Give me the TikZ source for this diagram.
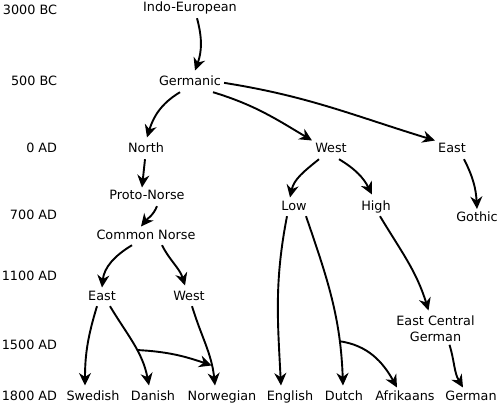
\documentclass[tikz,border=0pt]{standalone}
\usepackage{fontspec}
\setmainfont{DejaVu Sans}
\usetikzlibrary{arrows.meta}
\begin{document}
\begin{tikzpicture}[x=1pt,y=1pt,
  every node/.style={font=\fontsize{12.8}{16}\selectfont},
  lang/.style={inner sep=3pt, text height=9.3pt, text depth=3pt, anchor=base},
  year/.style={inner sep=3pt, anchor=base east},
  arr/.style={line width=1.9pt, -{Stealth[length=12.5pt,width=12pt,inset=4pt]}}]
\useasboundingbox (0,0) rectangle (500,-406);
% years
\node[year] (y1) at (60.3,-14.5) {3000 BC};
\node[year] (y2) at (60.3,-86) {500 BC};
\node[year] (y3) at (60.3,-153) {0 AD};
\node[year] (y4) at (60.3,-219) {700 AD};
\node[year] (y5) at (60.3,-280) {1100 AD};
\node[year] (y6) at (60.3,-349) {1500 AD};
\node[year] (y7) at (60.3,-400) {1800 AD};
% languages
\node[lang] (ie) at (190,-12) {Indo-European};
\node[lang] (germ) at (190,-86) {Germanic};
\node[lang] (north) at (146,-153) {North};
\node[lang] (west) at (331,-153) {West};
\node[lang] (east) at (452,-153) {East};
\node[lang] (proto) at (147,-200) {Proto-Norse};
\node[lang] (low) at (294,-210) {Low};
\node[lang] (high) at (376,-210) {High};
\node[lang] (gothic) at (477,-221.5) {Gothic};
\node[lang] (common) at (146,-239) {Common Norse};
\node[lang] (eastn) at (102,-300) {East};
\node[lang] (westn) at (189,-300) {West};
\node[inner sep=3pt, align=center, anchor=north] (ecg) at (435.5,-312.5) {East Central\\German};
\node[lang] (swedish) at (93,-400) {Swedish};
\node[lang] (danish) at (153,-400) {Danish};
\node[lang] (norw) at (222,-400) {Norwegian};
\node[lang] (english) at (290,-400) {English};
\node[lang] (dutch) at (344,-400) {Dutch};
\node[lang] (afrik) at (405,-400) {Afrikaans};
\node[lang] (german) at (471,-400) {German};
% connectors
\draw[arr] ([xshift=7pt]ie.south) to[out=-75,in=70] ([xshift=5pt,yshift=3pt]germ.north);
\draw[arr] ([xshift=-10pt]germ.south) to[out=211,in=73] ([xshift=1pt,yshift=3pt]north.north);
\draw[arr] ([xshift=23pt]germ.south) to[out=-17,in=149] ([xshift=-19pt]west.north);
\draw[arr] (germ.east) to[out=-9,in=163] (east.north west);
\draw[arr] ([xshift=-1pt]north.south) -- ([xshift=-5pt]proto.north);
\draw[arr] ([xshift=10pt]proto.south) to[out=-112,in=51] ([xshift=-5pt]common.north);
\draw[arr] ([xshift=-12pt]west.south) to[out=219,in=78] ([xshift=-4pt]low.north);
\draw[arr] ([xshift=8pt]west.south) to[out=-31,in=117] ([xshift=-4pt,yshift=3pt]high.north);
\draw[arr] ([xshift=12pt]east.south) to[out=-63,in=93] (gothic.north);
\draw[arr] ([xshift=-14pt]common.south) to[out=211,in=84] (eastn.north);
\draw[arr] ([xshift=16pt]common.south) to[out=-63,in=107] ([xshift=-4pt,yshift=2pt]westn.north);
\draw[arr] ([xshift=-5pt]eastn.south) to[out=-107,in=90] ([xshift=-8pt,yshift=2pt]swedish.north);
\draw[arr] ([xshift=8pt]eastn.south) to[out=-59,in=101] coordinate[pos=0.58] (dm) ([xshift=-4pt,yshift=2pt]danish.north);
\draw[arr] ([xshift=3pt]westn.south) to[out=-73,in=96] coordinate[pos=0.77] (nm) ([xshift=-7pt,yshift=2pt]norw.north);
\draw[arr] (dm) to[out=-3,in=161] (nm);
\draw[arr] ([xshift=-7pt]low.south) to[out=-101,in=93] ([xshift=-9pt,yshift=2pt]english.north);
\draw[arr] ([xshift=12pt]low.south) to[out=-71,in=92] coordinate[pos=0.76] (lm) ([xshift=-1pt,yshift=2pt]dutch.north);
\draw[arr] (lm) to[out=-8,in=119] ([xshift=-8pt]afrik.north);
\draw[arr] ([xshift=4pt]high.south) to[out=-59,in=107] ([xshift=-7pt,yshift=2pt]ecg.north);
\draw[arr] ([xshift=14pt]ecg.south) to[out=-73,in=121] ([xshift=-8pt]german.north);
\end{tikzpicture}
\end{document}
